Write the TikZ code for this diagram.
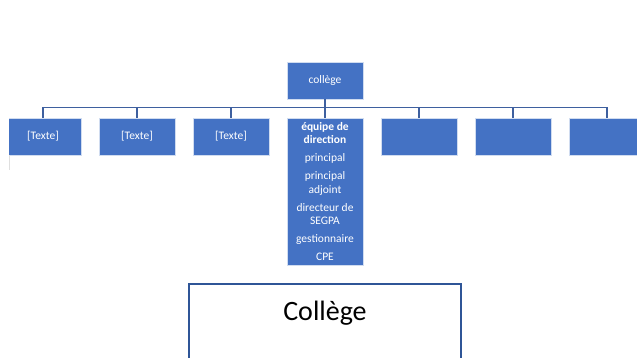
\documentclass[tikz,border=0pt]{standalone}
\usepackage{fontspec}
\setmainfont{Carlito}
\usetikzlibrary{positioning}
\definecolor{boxblue}{HTML}{4472C4}
\definecolor{linkblue}{HTML}{3E609F}
\definecolor{frameblue}{HTML}{2F5597}
\tikzset{
  orgbox/.style={rectangle,draw=white!75!boxblue,line width=0.6pt,fill=boxblue,text=white,
    minimum width=76pt,minimum height=37pt,inner sep=0pt,outer sep=0pt,
    font=\fontsize{11.5}{13.5}\selectfont},
  dirbox/.style={orgbox,minimum height=147pt,align=center},
  bus/.style={draw=linkblue,line width=1.5pt},
  framebox/.style={rectangle,draw=frameblue,line width=2pt,minimum width=272pt,
    inner xsep=0pt,inner ysep=7pt,text height=30pt,text depth=70pt,
    font=\fontsize{28}{32}\selectfont}
}
\begin{document}
\begin{tikzpicture}[x=1pt,y=1pt]
  \useasboundingbox (0,0) rectangle (637,358);
  \clip (9,0) rectangle (637,358);

  \node [orgbox] (college) at (325,277) {collège};
  \node [orgbox] (t1) at (43,221.5) {[Texte]};
  \node [orgbox,right=18pt of t1] (t2) {[Texte]};
  \node [orgbox,right=18pt of t2] (t3) {[Texte]};
  \node [dirbox,right=18pt of t3.north east,anchor=north west] (dir)
    {\textbf{équipe de}\\\textbf{direction}\\[4.5pt]principal\\[4.5pt]principal\\adjoint\\[4.5pt]directeur de\\SEGPA\\[4.5pt]gestionnaire\\[4.5pt]CPE};
  \node [orgbox,right=18pt of dir.north east,anchor=north west] (t5) {};
  \node [orgbox,right=18pt of t5] (t6) {};
  \node [orgbox,right=18pt of t6] (t7) {};

  \foreach \n in {t1,t2,t3,dir,t5,t6,t7}
    \draw [bus] (college.south) -- ++(0,-8) -| (\n.north);

  % thin grey trace under the first box
  \draw [gray!25,line width=0.8pt] (9.5,203) -- (9.5,188);

  \node [framebox,anchor=north] (collegebox) at (325,75) {Collège};
\end{tikzpicture}
\end{document}
